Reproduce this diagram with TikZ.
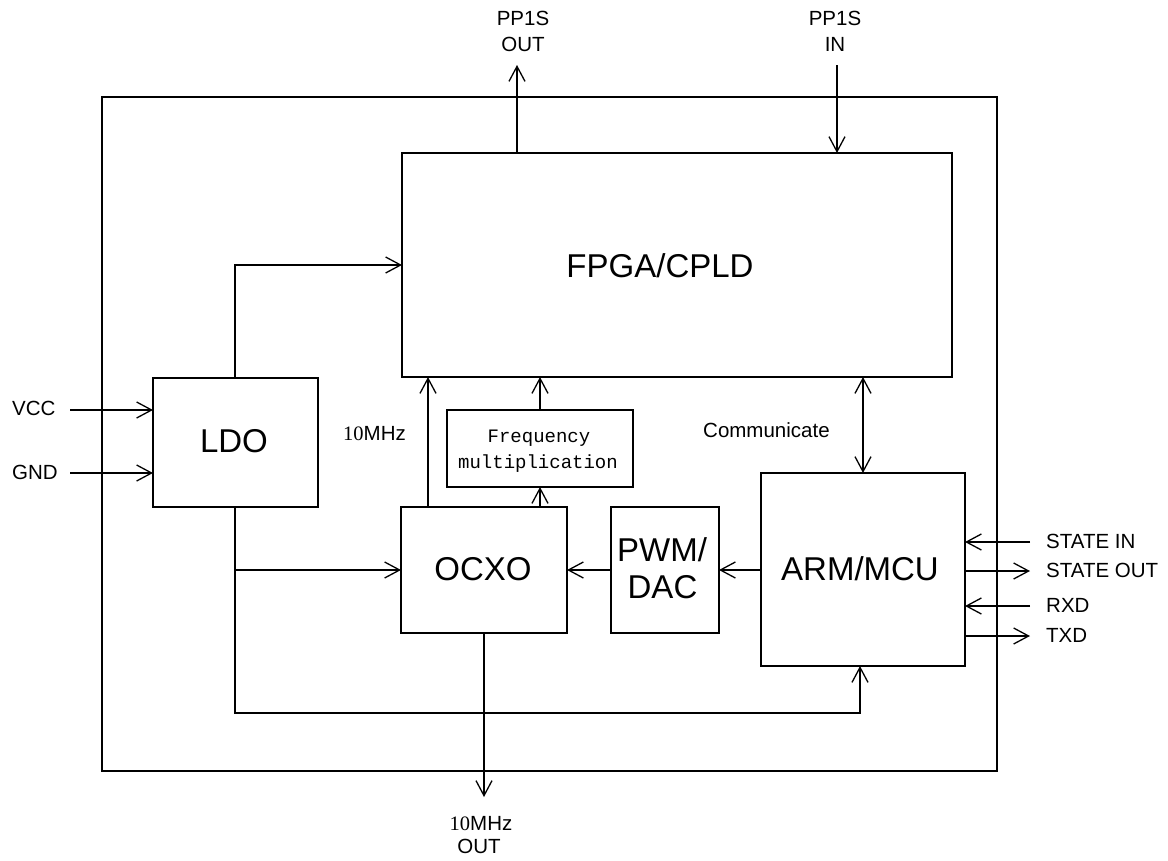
\documentclass[tikz,border=0pt]{standalone}
\usepackage{fontspec}
\setmainfont{Liberation Sans}
\newfontfamily\serifnum{Liberation Serif}
\newfontfamily\monof{Liberation Mono}
\usetikzlibrary{arrows.meta}
\tikzset{
  box/.style={draw, line width=1.3pt, inner sep=0pt, outer sep=0pt},
  wire/.style={line width=1.3pt},
  arr/.style={wire, -{Straight Barb[length=15pt,width=16pt,line width=1.3pt]}},
  darr/.style={wire, {Straight Barb[length=15pt,width=16pt,line width=1.3pt]}-{Straight Barb[length=15pt,width=16pt,line width=1.3pt]}},
  big/.style={font=\fontsize{33}{38}\selectfont, inner sep=0pt},
  small/.style={font=\fontsize{20.5}{24}\selectfont, inner sep=0pt},
  mono/.style={font=\monof\fontsize{19}{24}\selectfont, inner sep=0pt},
}
\begin{document}
\begin{tikzpicture}[x=1pt,y=-1pt]
\useasboundingbox (0,0) rectangle (1168,860);
\fill[white] (0,0) rectangle (1168,860);

% outer frame
\node[box, minimum width=895pt, minimum height=674pt] (outer) at (549.5,434) {};

% blocks
\node[box, minimum width=550pt, minimum height=224pt] (fpga) at (677,265) {};
\node[box, minimum width=165pt, minimum height=129pt] (ldo) at (235.5,442.5) {};
\node[box, minimum width=186pt, minimum height=77pt] (freq) at (540,448.5) {};
\node[box, minimum width=166pt, minimum height=126pt] (ocxo) at (484,570) {};
\node[box, minimum width=108pt, minimum height=126pt] (pwm) at (665,570) {};
\node[box, minimum width=204pt, minimum height=193pt] (arm) at (863,569.5) {};

% block labels
\node[big, anchor=base] (tfpga) at (660,277) {FPGA/CPLD};
\node[big, anchor=base] (tldo) at (234,452) {LDO};
\node[big, anchor=base] (tocxo) at (483,580) {OCXO};
\node[big, anchor=base] (tpwm1) at (662,561) {PWM/};
\node[big, anchor=base] (tpwm2) at (662.5,598) {DAC};
\node[big, anchor=base] (tarm) at (860,580) {ARM/MCU};
\node[mono, anchor=base] (tfreq1) at (539,442) {Frequency};
\node[mono, anchor=base] (tfreq2) at (538,468) {multiplication};

% free ends
\coordinate (ppo) at (517,65);
\coordinate (ppi) at (837,65);
\coordinate (vcc) at (70,410);
\coordinate (gnd) at (70,473);
\coordinate (c1) at (235,265);
\coordinate (bot) at (860,713);
\coordinate (x10) at (428,0);
\coordinate (out10) at (484,797);
\coordinate (sin) at (1030,542);
\coordinate (sout) at (1030,571);
\coordinate (rxd) at (1030,606);
\coordinate (txd) at (1030,636);

% connectors
\draw[arr] (fpga.north -| ppo) -- (ppo);
\draw[arr] (ppi) -- (ppi |- fpga.north);
\draw[arr] (vcc) -- (vcc -| ldo.west);
\draw[arr] (gnd) -- (gnd -| ldo.west);
\draw[arr] (c1 |- ldo.north) -- (c1) -- (c1 -| fpga.west);
\draw[arr] (c1 |- ldo.south) |- (ocxo.west);
\draw[arr] (c1 |- ldo.south) |- (bot) -- (bot |- arm.south);
\draw[arr] (ocxo.north -| x10) -- (fpga.south -| x10);
\draw[arr] (ocxo.north -| freq.south) -- (freq.south);
\draw[arr] (freq.north) -- (freq.north |- fpga.south);
\draw[darr] (fpga.south -| arm.north) -- (arm.north);
\draw[arr] (arm.west |- pwm.east) -- (pwm.east);
\draw[arr] (pwm.west) -- (ocxo.east);
\draw[arr] (ocxo.south) -- (out10);
\draw[arr] (sin) -- (sin -| arm.east);
\draw[arr] (arm.east |- sout) -- (sout);
\draw[arr] (rxd) -- (rxd -| arm.east);
\draw[arr] (arm.east |- txd) -- (txd);

% port labels
\node[small, anchor=base] (lppo1) at (523,25) {PP1S};
\node[small, anchor=base] (lppo2) at (523,51) {OUT};
\node[small, anchor=base] (lppi1) at (835,25) {PP1S};
\node[small, anchor=base] (lppi2) at (835,51) {IN};
\node[small, anchor=base west] (lvcc) at (12,415) {VCC};
\node[small, anchor=base west] (lgnd) at (12,479) {GND};
\node[small, anchor=base west] (l10) at (343,440) {{\serifnum 10}MHz};
\node[small, anchor=base west] (lcomm) at (703,437) {Communicate};
\node[small, anchor=base west] (lsin) at (1046,548) {STATE IN};
\node[small, anchor=base west] (lsout) at (1046,577) {STATE OUT};
\node[small, anchor=base west] (lrxd) at (1046,612) {RXD};
\node[small, anchor=base west] (ltxd) at (1046,642) {TXD};
\node[small, anchor=base] (lout1) at (481,830) {{\serifnum 10}MHz};
\node[small, anchor=base] (lout2) at (479,853) {OUT};
\end{tikzpicture}
\end{document}
